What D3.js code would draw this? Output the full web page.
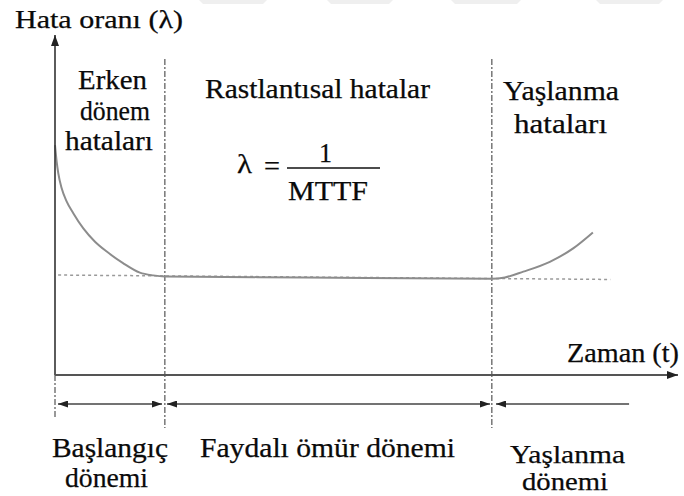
<!DOCTYPE html>
<html><head><meta charset="utf-8">
<script src="https://cdn.jsdelivr.net/npm/d3@7/dist/d3.min.js"></script>
<style>body{margin:0;background:#fff}svg{display:block}</style>
</head><body><svg id="c" width="684" height="496"></svg>
<script>
// ---- data (time units, failure-rate units) ----
const curveTime = [0, 0.27, 0.53, 1.07, 1.88, 2.93, 4.54, 6.41, 8.29, 10.9, 13.6, 15.75, 17.6, 40, 70, 72.1, 75.05, 79.3, 83.1, 86.2];
const curveRate = [67.6, 62.7, 59.3, 54.9, 51.0, 47.6, 43.1, 39.2, 36.3, 32.9, 30.1, 29.3, 29.0, 28.7, 28.3, 28.7, 30.4, 33.3, 37.3, 41.9];
const dottedTime = [0.5, 89];
const dottedRate = [29.4, 28.1];
const phaseBounds = [0.5, 17.6, 70.0, 92];
const phaseNames = ["Başlangıç dönemi", "Faydalı ömür dönemi", "Yaşlanma dönemi"];
const regionNames = ["Erken dönem hataları", "Rastlantısal hatalar", "Yaşlanma hataları"];
const axisTitles = ["Hata oranı (λ)", "Zaman (t)"];
const formula = ["λ", "=", "1", "MTTF"];

const svg = d3.select("#c");
const x = d3.scaleLinear().domain([0, 100]).range([55, 679]);
const y = d3.scaleLinear().domain([0, 100]).range([375, 35]);

// faint page artefacts at the top edge
[[203, 263], [331, 389], [455, 517], [600, 659]].forEach(([a, b]) => {
  svg.append("path").attr("d", `M${a - 4},0L${b + 4},0L${b},4L${a},4Z`).attr("fill", "#efefef");
});

const defs = svg.append("defs");
function marker(id, len, half, color) {
  defs.append("marker").attr("id", id)
    .attr("markerUnits", "userSpaceOnUse")
    .attr("viewBox", `0 0 ${len} ${half*2}`)
    .attr("refX", len).attr("refY", half)
    .attr("markerWidth", len).attr("markerHeight", half*2)
    .attr("orient", "auto-start-reverse")
    .append("path").attr("d", `M0,0L${len},${half}L0,${half*2}Z`).attr("fill", color);
}
marker("ax", 11, 4, "#222");
marker("rw", 10, 3.5, "#222");

const dashDot = "6,2,2,2";

// dash-dot extension of y axis below x axis
svg.append("line").attr("x1", x(0)).attr("x2", x(0)).attr("y1", y(0)).attr("y2", 418)
  .attr("stroke", "#777").attr("stroke-width", 1.5).attr("stroke-dasharray", dashDot);

// phase boundary lines
svg.selectAll("line.phase").data(phaseBounds.slice(1, 3)).join("line").attr("class", "phase")
  .attr("x1", d => x(d)).attr("x2", d => x(d)).attr("y1", 59).attr("y2", 428)
  .attr("stroke", "#777").attr("stroke-width", 1.5).attr("stroke-dasharray", dashDot);

// dotted constant-rate line
svg.append("line")
  .attr("x1", x(dottedTime[0])).attr("x2", x(dottedTime[1]))
  .attr("y1", y(dottedRate[0])).attr("y2", y(dottedRate[1]))
  .attr("stroke", "#9a9a9a").attr("stroke-width", 1.5).attr("stroke-dasharray", "3,3");

// bathtub curve
const pts = curveTime.map((t, i) => [t, curveRate[i]]);
svg.append("path").datum(pts)
  .attr("d", d3.line().x(d => x(d[0])).y(d => y(d[1])).curve(d3.curveMonotoneX))
  .attr("fill", "none").attr("stroke", "#8c8c8c").attr("stroke-width", 2);

// axes
svg.append("line").attr("x1", x(0)).attr("x2", x(0)).attr("y1", y(0)).attr("y2", y(100))
  .attr("stroke", "#333").attr("stroke-width", 1.6).attr("marker-end", "url(#ax)");
svg.append("line").attr("x1", x(0)).attr("x2", 678).attr("y1", y(0)).attr("y2", y(0))
  .attr("stroke", "#555").attr("stroke-width", 2).attr("marker-end", "url(#ax)");

// phase span arrows
const rowY = 404;
const spans = [
  {a: 58, b: 162, s: true, e: true},
  {a: 167, b: 490, s: true, e: true},
  {a: 496, b: x(phaseBounds[3]), s: true, e: false}
];
svg.selectAll("line.span").data(spans).join("line").attr("class", "span")
  .attr("x1", d => d.a).attr("x2", d => d.b).attr("y1", rowY).attr("y2", rowY)
  .attr("stroke", "#444").attr("stroke-width", 1.6)
  .attr("marker-start", d => d.s ? "url(#rw)" : null)
  .attr("marker-end", d => d.e ? "url(#rw)" : null);

// texts
const font = "'Liberation Serif','Times New Roman',serif";
const er = regionNames[0].split(" ");
const ya = regionNames[2].split(" ");
const bp = phaseNames[0].split(" ");
const yp = phaseNames[2].split(" ");
// [text, x, baseline, width, size]
const labels = [
  [axisTitles[0], 15, 28, 168, 26],
  [er[0], 78, 89, 69, 27],
  [er[1], 80, 120, 70, 27],
  [er[2], 65, 150, 88, 27],
  [regionNames[1], 205, 98, 225, 27],
  [ya[0], 503, 100, 116, 27],
  [ya[1], 514, 133, 93, 27],
  [axisTitles[1], 567, 362, 112, 27],
  [bp[0], 52, 457, 116, 27],
  [bp[1], 65, 487, 83, 27],
  [phaseNames[1], 200, 457, 255, 27],
  [yp[0], 510, 463, 115, 25],
  [yp[1], 522, 490, 86, 25],
  [formula[0], 237, 173, 15, 27],
  [formula[1], 264, 175, 16, 27],
  [formula[2], 319, 162, 13, 27],
  [formula[3], 288, 200, 80, 27]
];
svg.selectAll("text.lbl").data(labels).join("text").attr("class", "lbl")
  .attr("x", d => d[1]).attr("y", d => d[2])
  .attr("textLength", d => d[3]).attr("lengthAdjust", "spacingAndGlyphs")
  .attr("font-family", font).attr("font-size", d => d[4]).attr("fill", "#0a0a0a")
  .attr("stroke", "#0a0a0a").attr("stroke-width", 0.25)
  .text(d => d[0]);

// fraction bar
svg.append("line").attr("x1", 287).attr("x2", 380).attr("y1", 168).attr("y2", 168)
  .attr("stroke", "#111").attr("stroke-width", 1.5);
</script></body></html>
